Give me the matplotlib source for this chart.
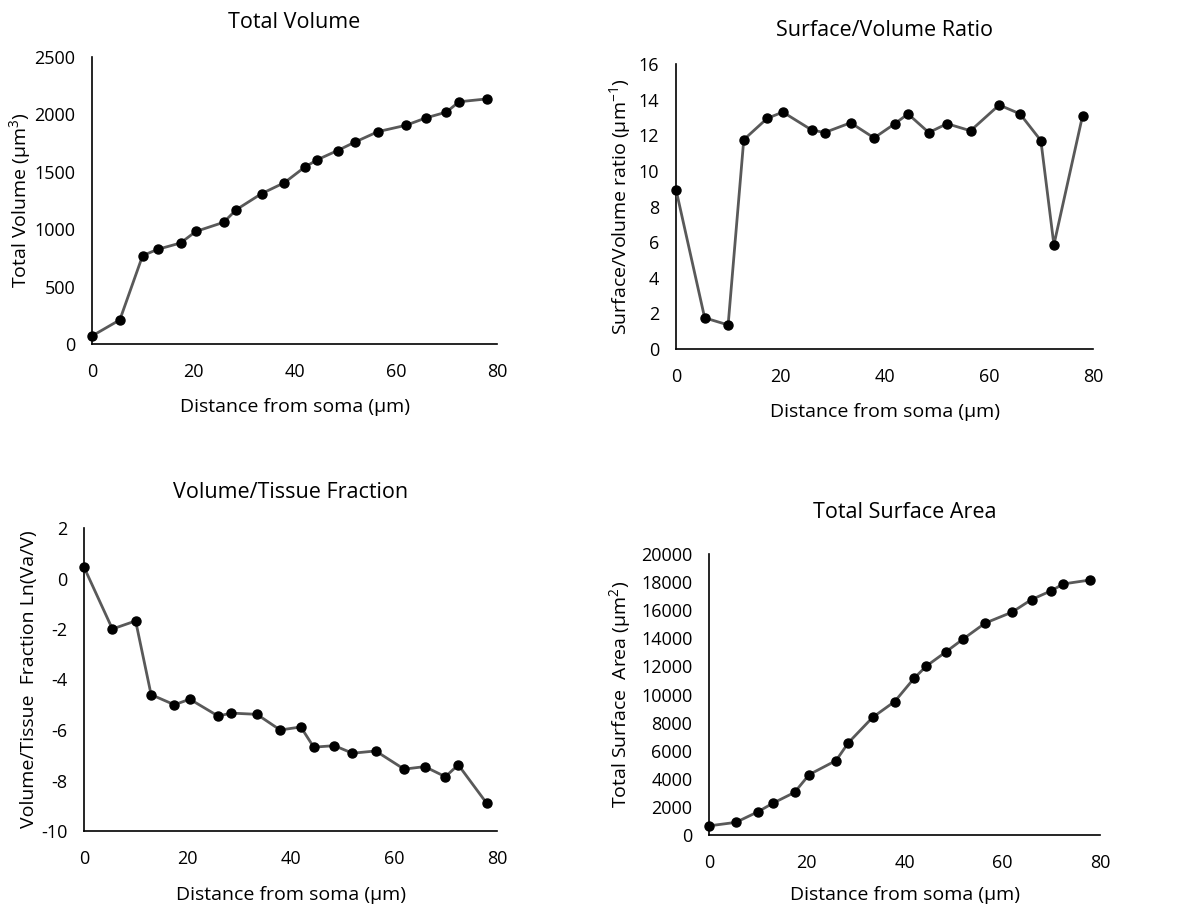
import matplotlib
matplotlib.use("Agg")
import matplotlib.pyplot as plt

plt.rcParams['font.family'] = ['Open Sans', 'DejaVu Sans']
plt.rcParams['axes.unicode_minus'] = False

# distance from soma (um), shared by all four panels
distance = [0, 5.5, 10, 13, 17.5, 20.5, 26, 28.5, 33.5, 38, 42, 44.5,
            48.5, 52, 56.5, 62, 66, 70, 72.5, 78]

total_volume = [70, 210, 770, 825, 880, 980, 1060, 1170, 1310, 1405, 1540,
                1605, 1685, 1760, 1850, 1905, 1970, 2020, 2110, 2135]

sv_ratio = [8.95, 1.75, 1.35, 11.75, 12.95, 13.3, 12.3, 12.15, 12.7, 11.85,
            12.65, 13.2, 12.15, 12.65, 12.25, 13.7, 13.2, 11.7, 5.85, 13.1]

tissue_fraction = [0.45, -2.0, -1.68, -4.6, -5.0, -4.78, -5.45, -5.33, -5.38,
                   -6.0, -5.88, -6.68, -6.62, -6.92, -6.83, -7.55, -7.45,
                   -7.85, -7.38, -8.9]

surface_area = [650, 900, 1650, 2250, 3030, 4300, 5300, 6560, 8380, 9500,
                11170, 12030, 13040, 13950, 15080, 15860, 16760, 17380,
                17870, 18150]

W, H = 1179, 909
fig = plt.figure(figsize=(W / 100, H / 100), dpi=100)


def panel(left, right, top, bottom, y, ylim, yticks, title, title_y, ylabel,
          xlabelpad=6, ylabelpad=4):
    ax = fig.add_axes([left / W, 1 - bottom / H, (right - left) / W, (bottom - top) / H])
    ax.plot(distance, y, color='#595959', lw=2, marker='o', ms=6.5,
            mfc='black', mec='black', zorder=3, clip_on=False)
    ax.set_xlim(0, 80)
    ax.set_ylim(*ylim)
    ax.set_xticks([0, 20, 40, 60, 80])
    ax.set_yticks(yticks)
    for s in ['top', 'right']:
        ax.spines[s].set_visible(False)
    for s in ['left', 'bottom']:
        ax.spines[s].set_linewidth(1.2)
        ax.spines[s].set_color('black')
    ax.tick_params(length=0, labelsize=13, colors='black')
    ax.tick_params(axis='x', pad=14)
    ax.tick_params(axis='y', pad=12)
    ax.set_xlabel('Distance from soma (\u00b5m)', fontsize=14, labelpad=xlabelpad)
    ax.set_ylabel(ylabel, fontsize=14, labelpad=ylabelpad)
    cx = (left + right) / 2 / W
    fig.text(cx, 1 - title_y / H, title, ha='center', va='center', fontsize=15.5)
    return ax


panel(92, 497, 57, 344, total_volume, (0, 2500), range(0, 2501, 500),
      'Total Volume', 22, 'Total Volume (\u00b5m$\\mathregular{^3}$)',
      xlabelpad=12, ylabelpad=1)

panel(676, 1093, 64, 349, sv_ratio, (0, 16), range(0, 17, 2),
      'Surface/Volume Ratio', 30, 'Surface/Volume ratio (\u00b5m$\\mathregular{^{-1}}$)',
      xlabelpad=12, ylabelpad=4)

panel(84, 497, 528, 831, tissue_fraction, (-10, 2), range(-10, 3, 2),
      'Volume/Tissue Fraction', 492, 'Volume/Tissue  Fraction Ln(Va/V)',
      xlabelpad=13, ylabelpad=2)

panel(709, 1100, 554, 835, surface_area, (0, 20000), range(0, 20001, 2000),
      'Total Surface Area', 512, 'Total Surface  Area (\u00b5m$\\mathregular{^2}$)',
      xlabelpad=10, ylabelpad=6)

fig.savefig('out.png', dpi=100)
